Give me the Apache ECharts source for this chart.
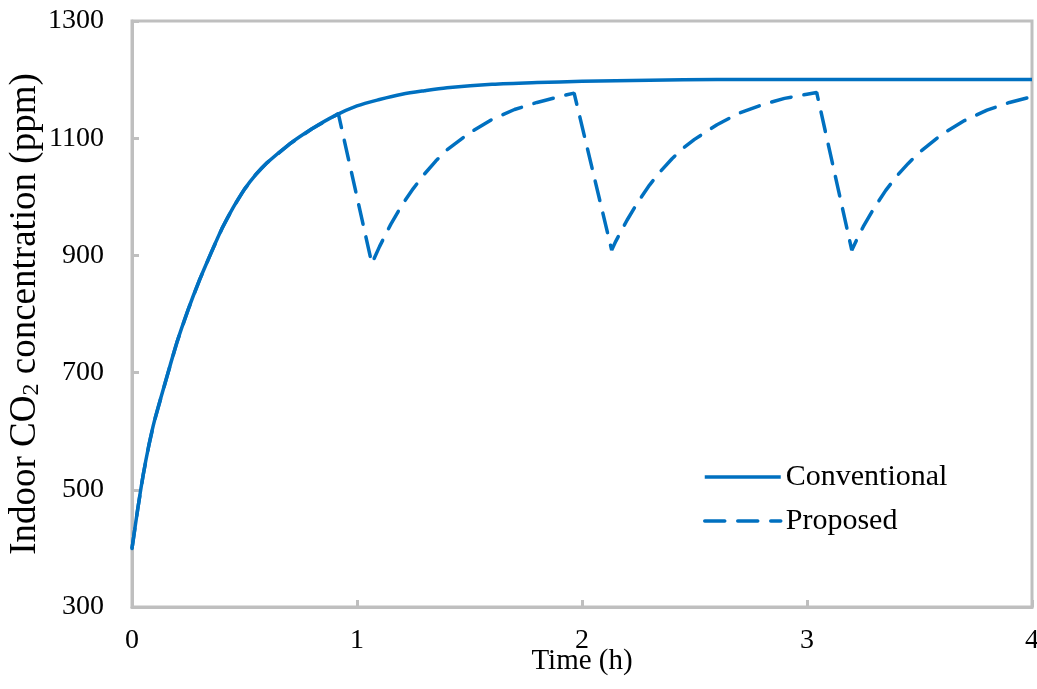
<!DOCTYPE html>
<html>
<head>
<meta charset="utf-8">
<title>Indoor CO2 concentration</title>
<script src="https://cdn.jsdelivr.net/npm/echarts@6/dist/echarts.min.js"></script>
<style>
    html, body { margin: 0; padding: 0; background: #fff; }
    #chart { width: 1037px; height: 689px; }
</style>
</head>
<body>
<div id="chart"></div>
<script>
// 时间 (h) 与 浓度 (ppm)
var convTime = [0, 0.025, 0.05, 0.075, 0.1, 0.15, 0.2, 0.25, 0.3, 0.35, 0.4, 0.45, 0.5, 0.55, 0.6,
    0.7, 0.8, 0.9, 1.0, 1.1, 1.2, 1.3, 1.4, 1.6, 1.8, 2.0, 2.3, 2.6, 3.0, 3.5, 4.0];
var convValue = [400, 466, 526, 576, 618, 686, 752, 808, 858, 903, 946, 982, 1013, 1038, 1058,
    1090, 1116, 1138, 1155, 1166, 1175, 1181, 1186, 1192, 1195, 1197, 1199, 1200, 1200, 1200, 1200];

var propTime = [0, 0.025, 0.05, 0.075, 0.1, 0.15, 0.2, 0.25, 0.3, 0.35, 0.4, 0.45, 0.5, 0.55, 0.6,
    0.7, 0.8, 0.9, 0.917,
    1.066, 1.1, 1.15, 1.2, 1.25, 1.3, 1.35, 1.4, 1.5, 1.6, 1.7, 1.8, 1.9, 1.965,
    2.132, 2.15, 2.2, 2.25, 2.3, 2.35, 2.4, 2.45, 2.5, 2.6, 2.7, 2.8, 2.9, 3.0, 3.043,
    3.199, 3.22, 3.25, 3.3, 3.35, 3.4, 3.45, 3.5, 3.6, 3.7, 3.8, 3.9, 4.0];
var propValue = [400, 466, 526, 576, 618, 686, 752, 808, 858, 903, 946, 982, 1013, 1038, 1058,
    1090, 1116, 1138, 1142,
    886, 915, 953, 986, 1014, 1039, 1061, 1080, 1109, 1132, 1149, 1161, 1171, 1177,
    909, 924, 960, 992, 1020, 1044, 1065, 1083, 1098, 1123, 1143, 1157, 1168, 1175, 1178,
    909, 926, 949, 982, 1011, 1036, 1057, 1076, 1107, 1130, 1148, 1161, 1171];

var xTicks = [0, 1, 2, 3, 4];
var yTicks = [300, 500, 700, 900, 1100, 1300];

function pairs(xs, ys) {
    var out = [];
    for (var i = 0; i < xs.length; i++) {
        out.push([xs[i], ys[i]]);
    }
    return out;
}

var blue = '#0070c0';
var grey = '#bfbfbf';
var serif = 'Liberation Serif';

var myChart = echarts.init(document.getElementById('chart'));
var options = {
    animation: false,
    backgroundColor: '#fff',
    grid: {
        left: 132, right: 5, top: 21, bottom: 82,
        outerBoundsMode: 'none',
        containLabel: false,
        show: true,
        borderColor: grey,
        borderWidth: 3
    },
    legend: {
        orient: 'vertical',
        left: 698,
        top: 457,
        itemWidth: 76,
        itemHeight: 20,
        itemGap: 14,
        itemStyle: { opacity: 0 },
        lineStyle: { width: 3.5 },
        textStyle: { fontFamily: serif, fontSize: 30, color: '#000' },
        data: ['Conventional', 'Proposed']
    },
    xAxis: {
        type: 'value',
        min: xTicks[0],
        max: xTicks[xTicks.length - 1],
        interval: 1,
        name: 'Time (h)',
        nameLocation: 'middle',
        nameGap: 40,
        nameMoveOverlap: false,
        nameTextStyle: { fontFamily: serif, fontSize: 29, color: '#000' },
        axisLine: { lineStyle: { color: grey, width: 3 } },
        axisTick: { inside: true, length: 7, lineStyle: { color: grey, width: 3 } },
        axisLabel: { fontFamily: serif, fontSize: 28, color: '#000', margin: 20 },
        splitLine: { show: false }
    },
    yAxis: {
        type: 'value',
        min: yTicks[0],
        max: yTicks[yTicks.length - 1],
        interval: 200,
        name: 'Indoor CO{sub|2} concentration (ppm)',
        nameLocation: 'middle',
        nameGap: 88,
        nameMoveOverlap: false,
        nameTextStyle: {
            fontFamily: serif, fontSize: 37, color: '#000',
            rich: {
                sub: { fontFamily: serif, fontSize: 24, color: '#000', verticalAlign: 'bottom' }
            }
        },
        axisLine: { show: true, lineStyle: { color: grey, width: 3 } },
        axisTick: { show: true, inside: true, length: 7, lineStyle: { color: grey, width: 3 } },
        axisLabel: {
            fontFamily: serif, fontSize: 28, color: '#000', margin: 28,
            formatter: function (v) { return String(v); }
        },
        splitLine: { show: false }
    },
    series: [
        {
            name: 'Conventional',
            type: 'line',
            z: 3,
            symbol: 'none',
            smooth: 0.3,
            color: blue,
            lineStyle: { color: blue, width: 3.5 },
            data: pairs(convTime, convValue)
        },
        {
            // 折线不平滑, 保留尖角
            name: 'Proposed',
            type: 'line',
            z: 2,
            symbol: 'none',
            color: blue,
            lineStyle: { color: blue, width: 3.5, type: [20, 13], cap: 'round' },
            data: pairs(propTime, propValue)
        }
    ]
};
myChart.setOption(options);
</script>
</body>
</html>
